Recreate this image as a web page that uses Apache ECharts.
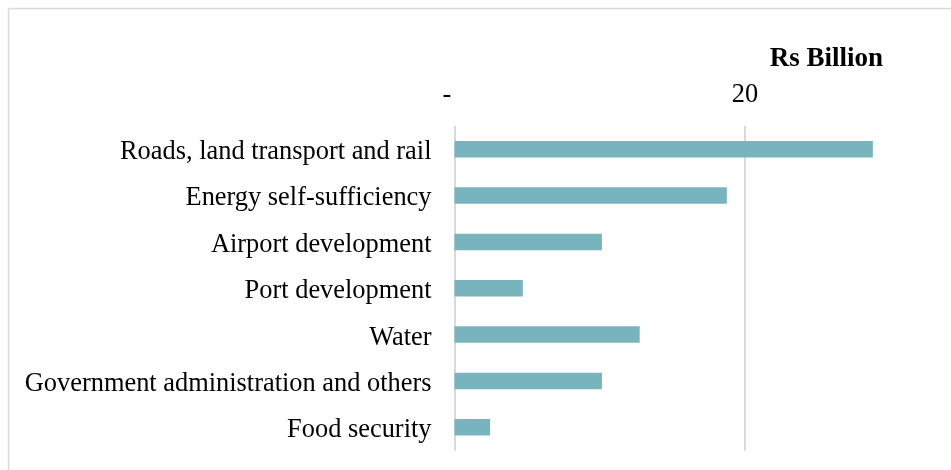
<!DOCTYPE html>
<html>
<head>
<meta charset="utf-8">
<script src="https://cdn.jsdelivr.net/npm/echarts@6/dist/echarts.min.js"></script>
<style>
html,body{margin:0;padding:0;background:#fff;overflow:hidden;}
#chart{width:951px;height:470px;}
</style>
</head>
<body>
<div id="chart"></div>
<script>
var categories = [
  "Roads, land transport and rail",
  "Energy self-sufficiency",
  "Airport development",
  "Port development",
  "Water",
  "Government administration and others",
  "Food security"
];
var values = [28.8, 18.75, 10.15, 4.7, 12.75, 10.15, 2.45];
var unitLabel = "Rs Billion";

var FONT = "'Liberation Serif','Times New Roman',serif";
var chart = echarts.init(document.getElementById('chart'), null, {renderer: 'canvas'});
chart.setOption({
  animation: false,
  backgroundColor: '#ffffff',
  graphic: [
    {type: 'line', z: -10, shape: {x1: 8.5, y1: 8.5, x2: 951, y2: 8.5}, style: {stroke: '#d9d9d9', lineWidth: 1.5}},
    {type: 'line', z: -10, shape: {x1: 8.5, y1: 8.5, x2: 8.5, y2: 470}, style: {stroke: '#d9d9d9', lineWidth: 1.5}}
  ],
  title: {
    text: unitLabel,
    right: 68,
    top: 45.5,
    padding: 0,
    textStyle: {fontFamily: FONT, fontSize: 27, fontWeight: 'bold', color: '#000'}
  },
  grid: {left: 454.5, top: 126, bottom: 19.5, width: 581, containLabel: false, outerBoundsMode: 'none'},
  xAxis: {
    type: 'value',
    position: 'top',
    min: 0,
    max: 40,
    interval: 20,
    axisLine: {show: false},
    axisTick: {show: false},
    splitLine: {show: true, lineStyle: {color: '#d9d9d9', width: 2}},
    axisLabel: {
      margin: 18,
      fontFamily: FONT,
      fontSize: 26.4,
      color: '#000',
      formatter: function (v) { return v === 0 ? '{d|-}' : String(v); },
      rich: {d: {fontFamily: FONT, fontSize: 26.4, color: '#000', padding: [0, 15, 0, 0]}}
    }
  },
  yAxis: {
    type: 'category',
    data: categories,
    inverse: true,
    axisLine: {show: false},
    axisTick: {show: false},
    splitLine: {show: false},
    axisLabel: {
      margin: 23,
      fontFamily: FONT,
      fontSize: 26.4,
      color: '#000',
      formatter: function (v) { return '{c|' + v + '}'; },
      rich: {c: {fontFamily: FONT, fontSize: 26.4, color: '#000', padding: [6, 0, 0, 0]}}
    }
  },
  series: [{
    type: 'bar',
    data: values,
    barWidth: 16.5,
    itemStyle: {color: '#78b4be'}
  }]
});
</script>
</body>
</html>
